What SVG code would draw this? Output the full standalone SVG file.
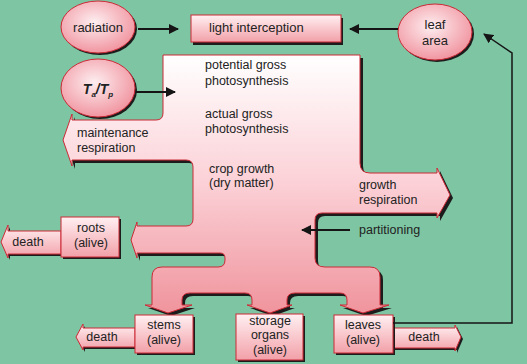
<svg xmlns="http://www.w3.org/2000/svg" width="527" height="364" viewBox="0 0 527 364">
<defs>
<linearGradient id="gBody" gradientUnits="userSpaceOnUse" x1="0" y1="55" x2="0" y2="313">
<stop offset="0" stop-color="#ffffff"/>
<stop offset="0.5" stop-color="#fbd0d6"/>
<stop offset="1" stop-color="#f0949d"/>
</linearGradient>
<linearGradient id="gBox" x1="0" y1="0" x2="0" y2="1">
<stop offset="0" stop-color="#fff0f2"/>
<stop offset="1" stop-color="#f2a0a8"/>
</linearGradient>
<radialGradient id="gEll" cx="0.45" cy="0.4" r="0.65">
<stop offset="0" stop-color="#fdeef0"/>
<stop offset="1" stop-color="#f08e9a"/>
</radialGradient>
<marker id="ah" viewBox="0 0 10 10" refX="9" refY="5" markerWidth="10" markerHeight="10" markerUnits="userSpaceOnUse" orient="auto">
<path d="M0,0 L10,5 L0,10 Z" fill="#151515"/>
</marker>
</defs>
<style>
.t{font-family:"Liberation Sans",Arial,sans-serif;font-size:12.5px;fill:#222}
.m{text-anchor:middle}
.ol{stroke:#cc2a36;stroke-width:1}
.sh{fill:#1c1c1c}
.ln{stroke:#151515;stroke-width:2;fill:none}
</style>
<rect width="527" height="364" fill="#7ec5a4"/>

<g id="crop">
<path class="sh" transform="translate(3,3)" d="M163,55 L360,55 L360,163 Q360,173 370,173 L437,173 L437,168 L450,195 L437,218 L437,213 L322,213 Q315,213 315,220 L315,258 Q315,267 325,267 L370,267 Q380,267 380,277 L380,305 L389,305 L363,313 L340,305 L347,305 L347,300 Q347,293 340,293 L295,293 Q287,293 287,300 L287,305 L292,305 L270,313 L247,305 L252,305 L252,300 Q252,293 245,293 L190,293 Q182,293 182,300 L182,305 L192,305 L168,313 L145,305 L152,305 L152,277 Q152,267 162,267 L218,267 Q225,267 225,260 L225,258 Q225,253 220,253 L137,253 L137,258 L131,240 L137,222 L137,226 L186,226 Q193,226 193,219 L193,167 Q193,160 186,160 L72,160 L72,166 L63,140 L72,114 L72,120 L156,120 Q163,120 163,113 Z"/>
<path fill="url(#gBody)" class="ol" d="M163,55 L360,55 L360,163 Q360,173 370,173 L437,173 L437,168 L450,195 L437,218 L437,213 L322,213 Q315,213 315,220 L315,258 Q315,267 325,267 L370,267 Q380,267 380,277 L380,305 L389,305 L363,313 L340,305 L347,305 L347,300 Q347,293 340,293 L295,293 Q287,293 287,300 L287,305 L292,305 L270,313 L247,305 L252,305 L252,300 Q252,293 245,293 L190,293 Q182,293 182,300 L182,305 L192,305 L168,313 L145,305 L152,305 L152,277 Q152,267 162,267 L218,267 Q225,267 225,260 L225,258 Q225,253 220,253 L137,253 L137,258 L131,240 L137,222 L137,226 L186,226 Q193,226 193,219 L193,167 Q193,160 186,160 L72,160 L72,166 L63,140 L72,114 L72,120 L156,120 Q163,120 163,113 Z"/>
<text class="t" x="205" y="69">potential gross</text>
<text class="t" x="205" y="85">photosynthesis</text>
<text class="t" x="205" y="118">actual gross</text>
<text class="t" x="205" y="133">photosynthesis</text>
<text class="t" x="209" y="173">crop growth</text>
<text class="t" x="209" y="187">(dry matter)</text>
<text class="t" x="77" y="137">maintenance</text>
<text class="t" x="77" y="152">respiration</text>
<text class="t" x="359" y="189">growth</text>
<text class="t" x="359" y="204">respiration</text>
</g>

<g id="partitioning">
<text class="t" x="359" y="234">partitioning</text>
</g>

<g id="radiation">
<ellipse class="sh" cx="100" cy="29" rx="37" ry="26"/>
<ellipse class="ol" cx="98" cy="27" rx="37" ry="26" fill="url(#gEll)"/>
<text class="t m" x="98" y="31.5" style="font-size:13px">radiation</text>
</g>

<g id="light">
<rect class="sh" x="193" y="18" width="150" height="27"/>
<rect class="ol" x="191" y="15" width="150" height="27" fill="url(#gBox)"/>
<text class="t" x="209" y="32" style="font-size:13px">light interception</text>
</g>

<g id="leafarea">
<ellipse class="sh" cx="437" cy="34" rx="37" ry="28"/>
<ellipse class="ol" cx="435" cy="32" rx="37" ry="28" fill="url(#gEll)"/>
<text class="t m" x="435" y="29" style="font-size:13px">leaf</text>
<text class="t m" x="435" y="45" style="font-size:13px">area</text>
</g>

<g id="tatp">
<ellipse class="sh" cx="100" cy="90" rx="37" ry="29"/>
<ellipse class="ol" cx="98" cy="88" rx="37" ry="29" fill="url(#gEll)"/>
<text class="t m" x="98" y="94" style="font-size:14px;font-weight:bold;font-style:italic">T<tspan style="font-size:8px" dy="3">a</tspan><tspan dy="-3">/</tspan><tspan>T</tspan><tspan style="font-size:8px" dy="3">p</tspan></text>
</g>

<g id="roots">
<path class="sh" transform="translate(2,2)" d="M61,231 L8,231 L8,225 L1,242 L8,258 L8,254 L61,254 Z"/>
<path class="ol" fill="url(#gBox)" d="M61,231 L8,231 L8,225 L1,242 L8,258 L8,254 L61,254 Z"/>
<text class="t m" x="28" y="246">death</text>
<rect class="sh" x="63" y="219" width="58" height="40"/>
<rect class="ol" x="61" y="217" width="58" height="40" fill="url(#gBox)"/>
<text class="t m" x="91" y="232">roots</text>
<text class="t m" x="91" y="247">(alive)</text>
</g>

<g id="stems">
<path class="sh" transform="translate(2,2)" d="M135,328 L83,328 L83,324 L76,337 L83,350 L83,347 L135,347 Z"/>
<path class="ol" fill="url(#gBox)" d="M135,328 L83,328 L83,324 L76,337 L83,350 L83,347 L135,347 Z"/>
<text class="t m" x="102" y="341">death</text>
<rect class="sh" x="137" y="317" width="58" height="38"/>
<rect class="ol" x="135" y="315" width="58" height="38" fill="url(#gBox)"/>
<text class="t m" x="164" y="329">stems</text>
<text class="t m" x="164" y="344">(alive)</text>
</g>

<g id="storage">
<rect class="sh" x="238" y="316" width="67" height="46"/>
<rect class="ol" x="236" y="314" width="67" height="46" fill="url(#gBox)"/>
<text class="t m" x="270" y="325">storage</text>
<text class="t m" x="270" y="339">organs</text>
<text class="t m" x="270" y="354">(alive)</text>
</g>

<g id="leaves">
<path class="sh" transform="translate(2,2)" d="M393,328 L455,328 L455,325 L461,337 L455,351 L455,348 L393,348 Z"/>
<path class="ol" fill="url(#gBox)" d="M393,328 L455,328 L455,325 L461,337 L455,351 L455,348 L393,348 Z"/>
<text class="t m" x="424" y="341">death</text>
<rect class="sh" x="336" y="317" width="59" height="38"/>
<rect class="ol" x="334" y="315" width="59" height="38" fill="url(#gBox)"/>
<text class="t m" x="363" y="329">leaves</text>
<text class="t m" x="363" y="344">(alive)</text>
</g>

<g id="connectors">
<line class="ln" x1="138" y1="29" x2="178" y2="29" marker-end="url(#ah)"/>
<line class="ln" x1="398" y1="29" x2="350" y2="29" marker-end="url(#ah)"/>
<line class="ln" x1="136" y1="92" x2="175" y2="92" marker-end="url(#ah)"/>
<line class="ln" x1="350" y1="230" x2="302" y2="230" marker-end="url(#ah)"/>
<polyline points="393,323 512,323 512,53 484,34" fill="none" stroke="#151515" stroke-width="1.5" marker-end="url(#ah)"/>
</g>
</svg>
